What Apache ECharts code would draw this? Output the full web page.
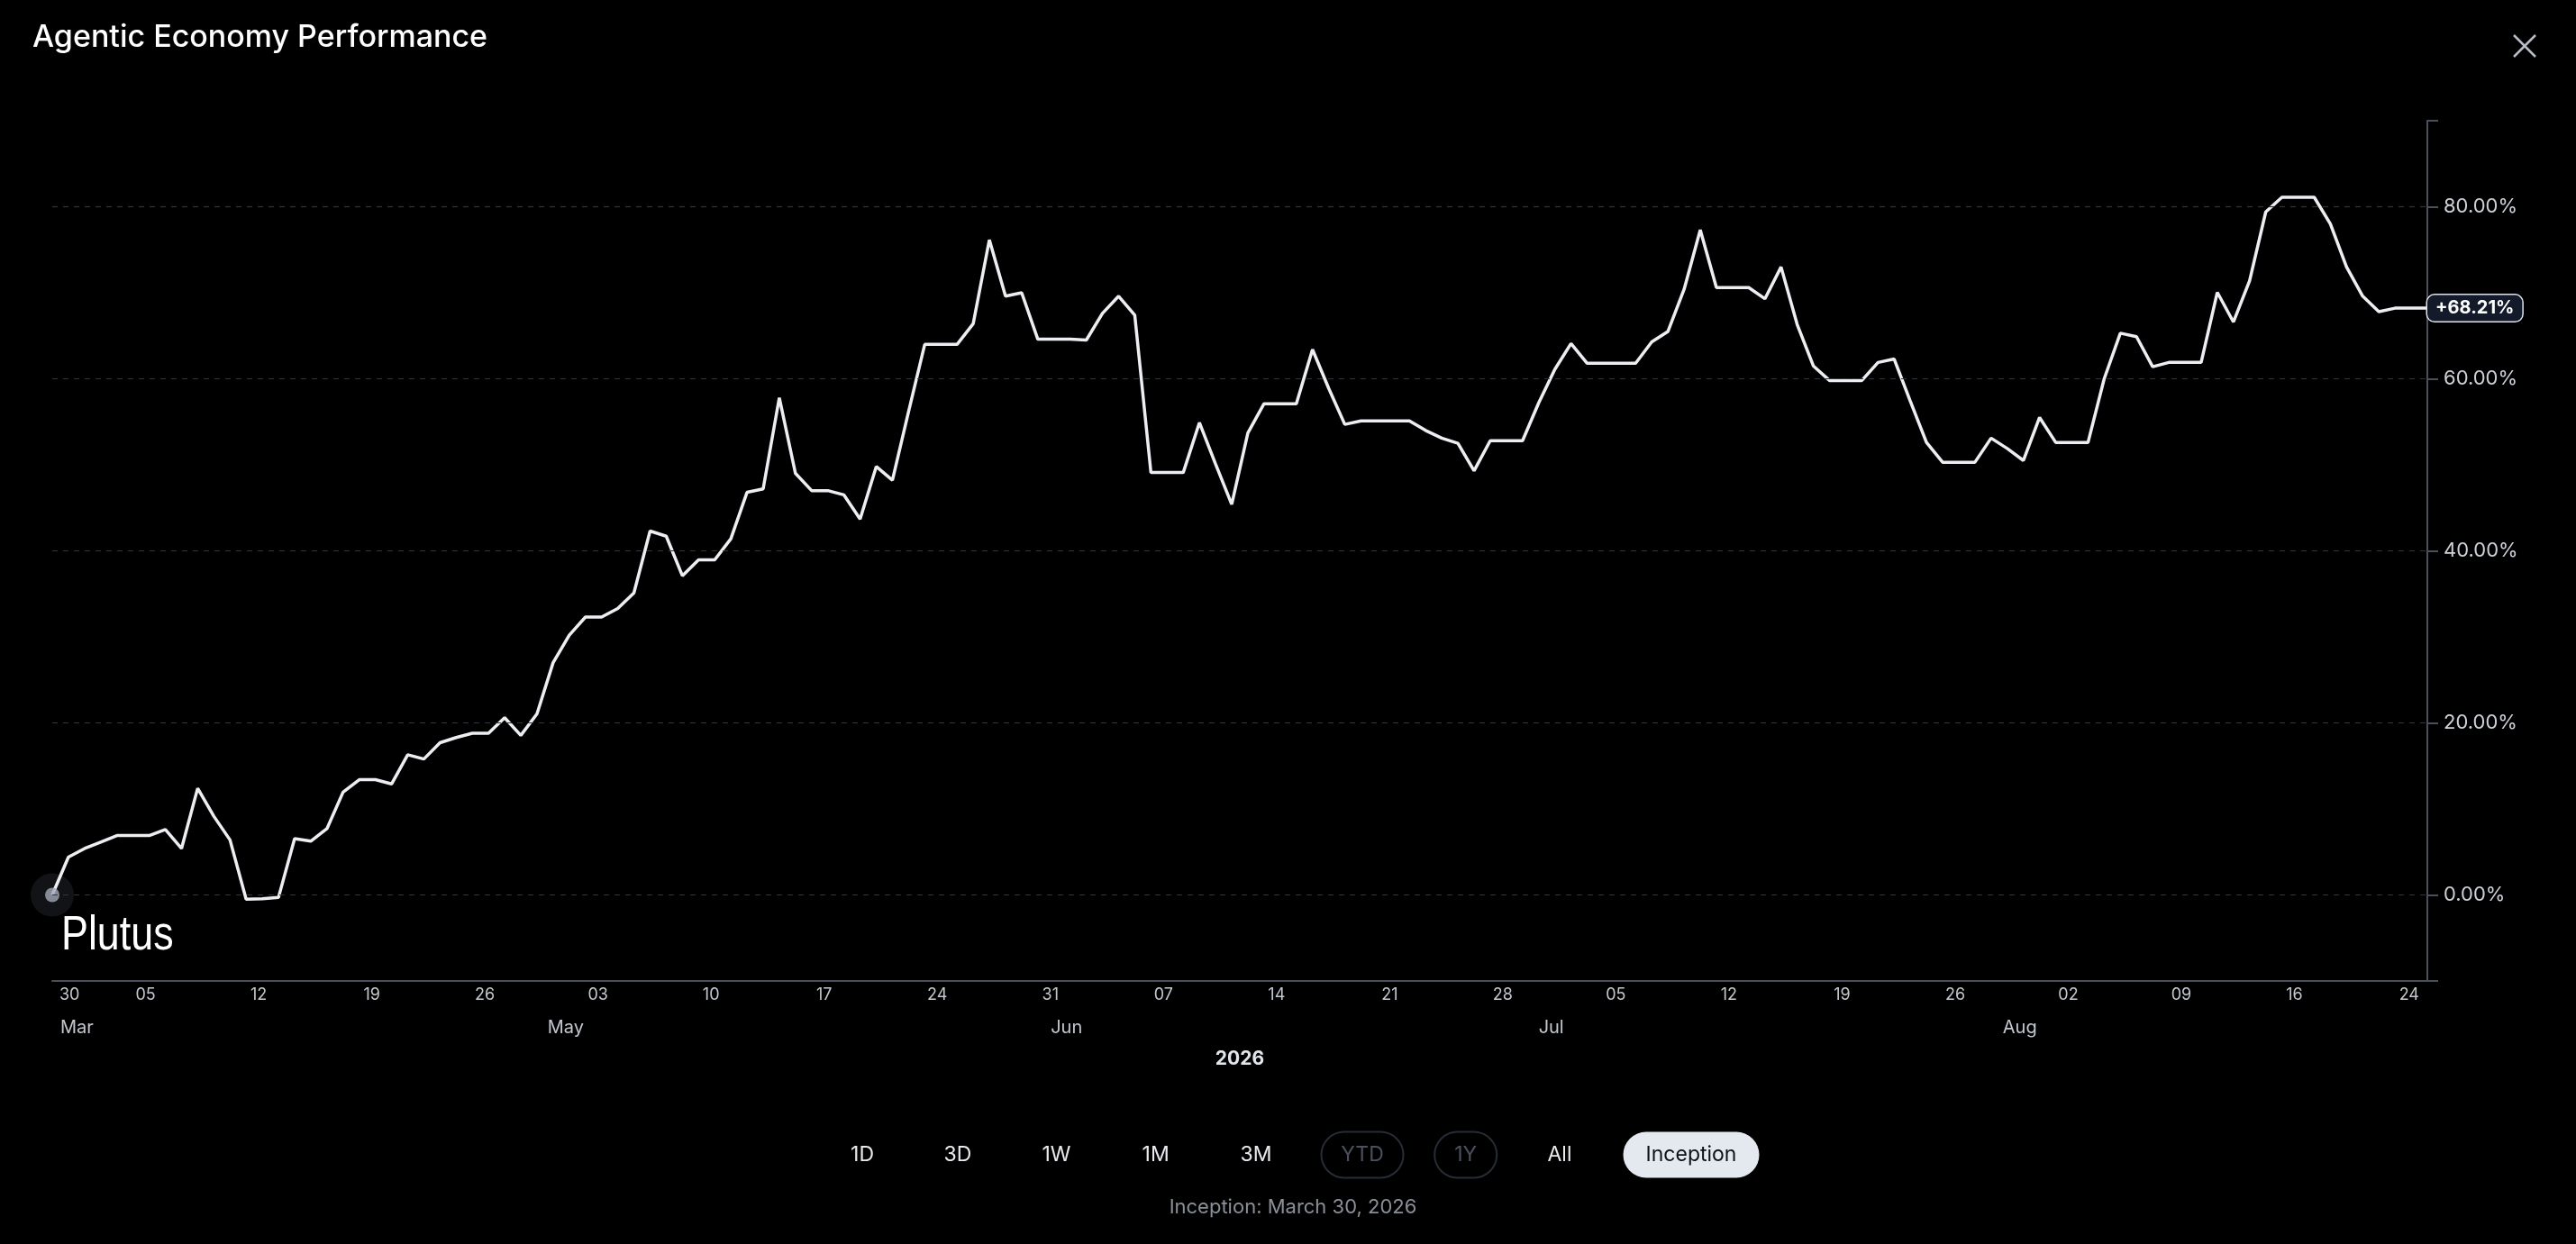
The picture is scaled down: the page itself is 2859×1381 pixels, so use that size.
<!DOCTYPE html>
<html>
<head>
<meta charset="utf-8">
<script src="https://cdn.jsdelivr.net/npm/echarts@6/dist/echarts.min.js"></script>
<style>
html,body{margin:0;padding:0;background:#000;}
#chart{width:2859px;height:1381px;}
</style>
</head>
<body>
<div id="chart"></div>
<script>
// ---- data ----
const dates = [
'03-30','03-31',
'04-01','04-02','04-03','04-04','04-05','04-06','04-07','04-08','04-09','04-10','04-11','04-12','04-13','04-14','04-15',
'04-16','04-17','04-18','04-19','04-20','04-21','04-22','04-23','04-24','04-25','04-26','04-27','04-28','04-29','04-30',
'05-01','05-02','05-03','05-04','05-05','05-06','05-07','05-08','05-09','05-10','05-11','05-12','05-13','05-14','05-15','05-16',
'05-17','05-18','05-19','05-20','05-21','05-22','05-23','05-24','05-25','05-26','05-27','05-28','05-29','05-30','05-31',
'06-01','06-02','06-03','06-04','06-05','06-06','06-07','06-08','06-09','06-10','06-11','06-12','06-13','06-14','06-15',
'06-16','06-17','06-18','06-19','06-20','06-21','06-22','06-23','06-24','06-25','06-26','06-27','06-28','06-29','06-30',
'07-01','07-02','07-03','07-04','07-05','07-06','07-07','07-08','07-09','07-10','07-11','07-12','07-13','07-14','07-15','07-16',
'07-17','07-18','07-19','07-20','07-21','07-22','07-23','07-24','07-25','07-26','07-27','07-28','07-29','07-30','07-31',
'08-01','08-02','08-03','08-04','08-05','08-06','08-07','08-08','08-09','08-10','08-11','08-12','08-13','08-14','08-15','08-16',
'08-17','08-18','08-19','08-20','08-21','08-22','08-23','08-24'
];
const performance = [
0, 4.4, 5.4, 6.15, 6.9, 6.9, 6.9, 7.6, 5.4, 12.4,
9.15, 6.4, -0.5, -0.45, -0.3, 6.55, 6.25, 7.7, 11.95, 13.4,
13.4, 12.9, 16.3, 15.8, 17.7, 18.3, 18.8, 18.8, 20.6, 18.55,
21.05, 27.0, 30.2, 32.3, 32.3, 33.3, 35.1, 42.3, 41.7, 37.1,
38.95, 38.95, 41.4, 46.8, 47.2, 57.8, 49.0, 47.0, 47.0, 46.5,
43.7, 49.8, 48.2, 56.2, 64.0, 64.0, 64.0, 66.4, 76.15, 69.6,
70.0, 64.6, 64.6, 64.6, 64.5, 67.6, 69.6, 67.4, 49.1, 49.1,
49.1, 54.9, 50.1, 45.4, 53.7, 57.1, 57.1, 57.1, 63.4, 58.9,
54.7, 55.1, 55.1, 55.1, 55.1, 54.0, 53.1, 52.5, 49.3, 52.8,
52.8, 52.8, 57.2, 61.1, 64.1, 61.8, 61.8, 61.8, 61.8, 64.3,
65.5, 70.4, 77.3, 70.6, 70.6, 70.6, 69.3, 73.0, 66.3, 61.5,
59.8, 59.8, 59.8, 61.9, 62.3, 57.4, 52.6, 50.3, 50.3, 50.3,
53.1, 51.9, 50.5, 55.5, 52.6, 52.6, 52.6, 60.0, 65.3, 64.9,
61.4, 61.9, 61.9, 61.9, 70.05, 66.6, 71.4, 79.4, 81.1, 81.1,
81.1, 78.0, 73.0, 69.6, 67.8, 68.21, 68.21, 68.21
];
const dayTickIndex = [0,6,13,20,27,34,41,48,55,62,69,76,83,90,97,104,111,118,125,132,139,147];
const monthTickIndex = [0,32,63,93,122];
const monthTickLabels = ['Mar','May','Jun','Jul','Aug'];
const yearLabel = '2026';
const yTickValues = [0,20,40,60,80];
const rangeButtons = ['1D','3D','1W','1M','3M','YTD','1Y','All','Inception'];
const disabledButtons = ['YTD','1Y'];
const activeButton = 'Inception';
const titleText = 'Agentic Economy Performance';
const captionText = 'Inception: March 30, 2026';
const brandText = 'Plutus';

// ---- layout (not data) ----
const FONT = 'Inter, "Noto Sans", sans-serif';
const btnLayout = [
  {cx:957},{cx:1063},{cx:1172.5},{cx:1282.6},{cx:1394},
  {cx:1512, w:91},{cx:1626.7, w:69},{cx:1731},{cx:1877, w:151}
];
const btnCY = 1282, btnH = 51;
const lastIdx = dates.length - 1;

const chart = echarts.init(document.getElementById('chart'), null, {renderer:'canvas'});

const graphics = [];
rangeButtons.forEach((b, i) => {
  const L = btnLayout[i];
  const disabled = disabledButtons.includes(b);
  const active = b === activeButton;
  if (L.w) {
    graphics.push({
      type:'rect', z:10,
      shape:{x:L.cx - L.w/2, y:btnCY - btnH/2, width:L.w, height:btnH, r:btnH/2},
      style: active ? {fill:'#e4e8ef'} : {fill:'transparent', stroke:'#272c35', lineWidth:2}
    });
  }
  graphics.push({
    type:'text', z:11, x:L.cx, y:btnCY,
    style:{text:b, font:'400 23px ' + FONT, fill: active ? '#0d1016' : (disabled ? '#4b515c' : '#e8eaee'),
      align:'center', verticalAlign:'middle'}
  });
});
graphics.push({
  type:'text', z:11, x:1435, y:1340,
  style:{text:captionText, font:'22px ' + FONT, fill:'#8a8f98', align:'center', verticalAlign:'middle'}
});
graphics.push({
  type:'text', z:11, x:68, y:1039, scaleX:0.83,
  style:{text:brandText, font:'54px "Liberation Sans", Arial, sans-serif', fill:'#ffffff', align:'left', verticalAlign:'middle'}
});
// close icon
graphics.push({type:'line', z:11, shape:{x1:2790, y1:39, x2:2814, y2:63}, style:{stroke:'#b9bdc5', lineWidth:2.5}});
graphics.push({type:'line', z:11, shape:{x1:2814, y1:39, x2:2790, y2:63}, style:{stroke:'#b9bdc5', lineWidth:2.5}});

const axisColor = '#4a4f59';
const labelColor = '#c3c7ce';

const option = {
  backgroundColor:'#000000',
  animation:false,
  title:{
    text:titleText, left:31, top:20,
    textStyle:{color:'#ffffff', fontSize:34, fontWeight:500, fontFamily:FONT}
  },
  grid:{left:58, right:165, top:134, bottom:292, containLabel:false, outerBoundsMode:'none'},
  xAxis:[
    {
      type:'category', data:dates, boundaryGap:false, position:'bottom',
      axisLine:{show:true, onZero:false, lineStyle:{color:axisColor, width:2}},
      axisTick:{show:false},
      splitLine:{show:false},
      axisLabel:{
        show:true, color:labelColor, fontSize:18, fontFamily:FONT, margin:7,
        padding:[0,8,0,0],
        interval:(idx) => dayTickIndex.includes(idx),
        formatter:(v, idx) => {
          const t = v.slice(3);
          if (idx === 0) return '{first|' + t + '}';
          if (idx === lastIdx) return '{last|' + t + '}';
          return t;
        },
        rich:{
          first:{padding:[0,0,0,8], color:labelColor, fontSize:18, fontFamily:FONT},
          last:{padding:[0,1,0,0], color:labelColor, fontSize:18, fontFamily:FONT}
        },
        alignMinLabel:'left', alignMaxLabel:'right'
      },
      name:yearLabel, nameLocation:'middle', nameGap:76,
      nameTextStyle:{color:'#e2e5ea', fontSize:21, fontWeight:'bold', fontFamily:FONT, verticalAlign:'top'}
    },
    {
      type:'category', data:dates, boundaryGap:false, position:'bottom', offset:35,
      axisLine:{show:false, onZero:false}, axisTick:{show:false}, splitLine:{show:false},
      axisLabel:{
        show:true, color:labelColor, fontSize:20, fontFamily:FONT, margin:7,
        padding:[0,8,0,0],
        interval:(idx) => monthTickIndex.includes(idx),
        formatter:(v, idx) => {
          const k = monthTickIndex.indexOf(idx);
          if (k < 0) return '';
          return idx === 0 ? '{first|' + monthTickLabels[k] + '}' : monthTickLabels[k];
        },
        rich:{
          first:{padding:[0,0,0,9], color:labelColor, fontSize:20, fontFamily:FONT}
        },
        alignMinLabel:'left'
      }
    }
  ],
  yAxis:{
    type:'value', position:'right', min:-10, max:90, splitNumber:5,
    axisLine:{show:true, lineStyle:{color:axisColor, width:2}},
    axisTick:{show:true, length:12, lineStyle:{color:axisColor, width:2}},
    splitLine:{show:false},
    axisLabel:{
      color:'#cdd1d8', fontSize:22, fontFamily:FONT, margin:18,
      formatter:(v) => (yTickValues.includes(v) ? v.toFixed(2) + '%' : '')
    }
  },
  series:[
    {
      type:'scatter', z:1, silent:true,
      data:[[dates[0], performance[0]]],
      symbolSize:48, itemStyle:{color:'#15181d'},
      markLine:{
        silent:true, symbol:'none', label:{show:false},
        lineStyle:{color:'#30343b', type:[6,6], width:1.2},
        data: yTickValues.map(v => ({yAxis:v}))
      }
    },
    {
      type:'line', z:3, data:performance, showSymbol:false, symbol:'none',
      lineStyle:{color:'#eceef2', width:3.5},
      endLabel:{
        show:true, distance:0,
        formatter:(p) => '+' + Number(p.value).toFixed(2) + '%',
        color:'#ffffff', fontSize:20, fontWeight:'bold', fontFamily:FONT,
        backgroundColor:'#131b2b', borderColor:'#dfe4ec', borderWidth:1.5, borderRadius:8,
        padding:[5,9,4,9]
      }
    },
    {
      type:'scatter', z:4, silent:true,
      data:[[dates[0], performance[0]]],
      symbolSize:16, itemStyle:{color:'#a2aab7'}
    }
  ],
  graphic:graphics
};
chart.setOption(option);
</script>
</body>
</html>
